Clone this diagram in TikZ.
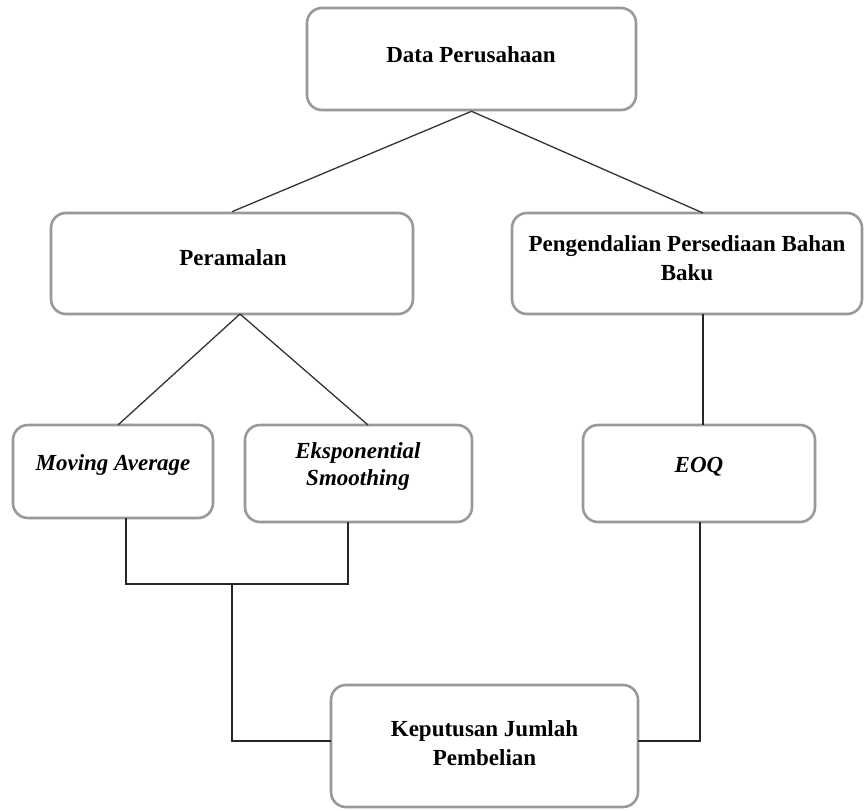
\documentclass[tikz,border=0pt]{standalone}
\usepackage{fontspec}
\setmainfont{Liberation Serif}
\begin{document}
\begin{tikzpicture}[x=1pt,y=-1pt,
  box/.style={draw=black!40, line width=2.6pt, rounded corners=15pt, fill=white, inner sep=0pt},
  lbl/.style={align=center, inner sep=0pt, font=\fontsize{23}{29}\selectfont\bfseries},
  ilbl/.style={align=center, inner sep=0pt, font=\fontsize{23}{27}\selectfont\bfseries\itshape},
  conn/.style={draw=black!85, line width=1.6pt},
  diag/.style={draw=black!80, line width=1.3pt}]
\useasboundingbox (0,0) rectangle (866,810);
% boxes
\node[box, minimum width=329pt, minimum height=102pt] (data) at (471.5,59) {};
\node[box, minimum width=362pt, minimum height=101pt] (peram) at (232,263.5) {};
\node[box, minimum width=350pt, minimum height=101pt] (peng) at (687,263.5) {};
\node[box, minimum width=200pt, minimum height=93pt] (ma) at (113,471.5) {};
\node[box, minimum width=227pt, minimum height=97pt] (eks) at (358.5,473.5) {};
\node[box, minimum width=232pt, minimum height=97pt] (eoq) at (699,473.5) {};
\node[box, minimum width=307pt, minimum height=122pt] (kep) at (484.5,746) {};
% labels
\node[lbl] (tdata) at (471,55) {Data Perusahaan};
\node[lbl] (tperam) at (233,258) {Peramalan};
\node[lbl] (tpeng) at (687,258) {Pengendalian Persediaan Bahan\\Baku};
\node[ilbl] (tma) at (113,465) {Moving Average};
\node[ilbl] (teks) at (358,466) {Eksponential\\Smoothing};
\node[ilbl] (teoq) at (699,467) {EOQ};
\node[lbl] (tkep) at (484.5,743) {Keputusan Jumlah\\Pembelian};
% connector points
\coordinate (pengtop) at (703,213);
\coordinate (pengbot) at (703,314);
\coordinate (eoqtop) at (703,425);
\coordinate (apex) at (240,314);
\coordinate (matop) at (118,425);
\coordinate (ekstop) at (368,425);
\coordinate (mabot) at (126,518);
\coordinate (eksbot) at (348,522);
\coordinate (mj1) at (126,584);
\coordinate (mj2) at (348,584);
\coordinate (mj) at (232,584);
\coordinate (lj) at (232,741);
\coordinate (kepw) at (331,741);
\coordinate (eoqbot) at (700,522);
\coordinate (rj) at (700,741);
\coordinate (kepe) at (638,741);
% connectors
\draw[diag] (data.south) -- (peram.north);
\draw[diag] (data.south) -- (pengtop);
\draw[diag] (apex) -- (matop);
\draw[diag] (apex) -- (ekstop);
\draw[conn] (pengbot) -- (eoqtop);
\draw[conn] (mabot) -- (mj1) -- (mj2) -- (eksbot);
\draw[conn] (mj) -- (lj) -- (kepw);
\draw[conn] (eoqbot) -- (rj) -- (kepe);
\end{tikzpicture}
\end{document}
